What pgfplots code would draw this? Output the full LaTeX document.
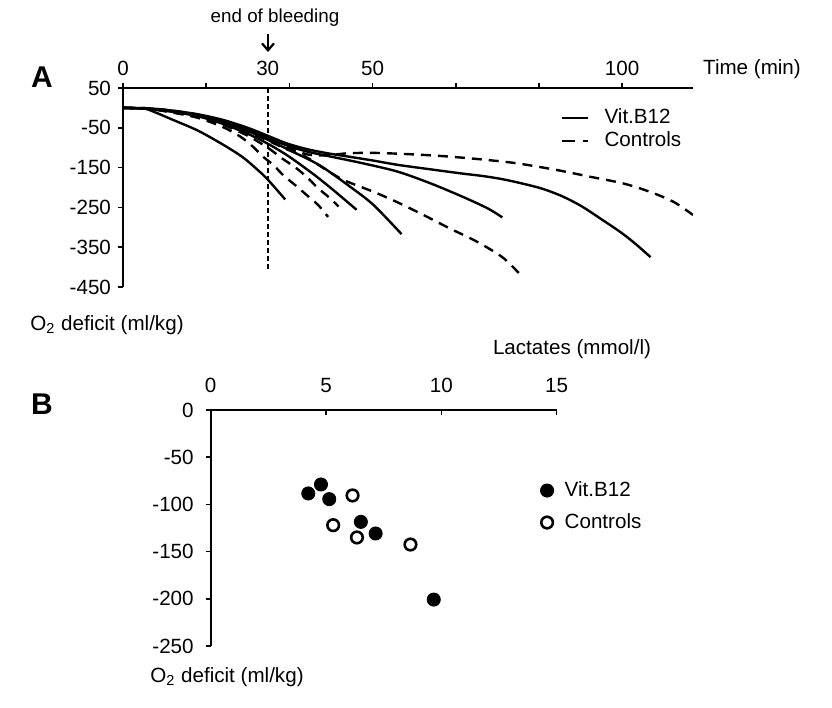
\documentclass[border=0pt]{standalone}
\usepackage{fontspec}
\setmainfont{Liberation Sans}
\usepackage{pgfplots}
\pgfplotsset{compat=1.18}
\usetikzlibrary{arrows.meta}
\newcommand\fsz{\fontsize{10.3}{12.4}\selectfont}
\begin{document}
\begin{tikzpicture}
\path[use as bounding box] (0pt,0pt) rectangle (416pt,-354pt);
% ---------------- Panel A ----------------
\begin{axis}[
  scale only axis, width=285pt, height=99.5pt,
  at={(61.5pt,-44pt)}, anchor=north west,
  xmin=0, xmax=114.2, ymin=-450, ymax=50,
  axis x line*=top, axis y line*=left,
  axis line style={line width=1pt},
  xtick={0,16.6667,33.3333,50,66.6667,83.3333,100},
  xticklabels={0,,,50,,,100},
  extra x ticks={29}, extra x tick labels={30},
  extra x tick style={xtick style={draw=none}},
  ytick={50,-50,-150,-250,-350,-450},
  yticklabels={50,-50,-150,-250,-350,-450},
  tick align=outside, major tick length=2.5pt,
  tick style={line width=0.8pt, black},
  tick label style={font=\fsz},
  legend cell align=left,
  legend image code/.code={\draw[#1] (0pt,0pt) -- (13pt,0pt);},
  legend style={draw=none, fill=none, inner sep=0pt, font=\fsz,
    at={(axis description cs:0.768,0.905)}, anchor=north west,
    nodes={inner sep=0.5pt, text height=7.5pt, text depth=2pt},
    column sep=7pt, row sep=1.2pt},
  every axis plot/.append style={line width=1.2pt, black},
]
\addlegendimage{solid, line width=1.2pt}
\addlegendentry{Vit.B12}
\addlegendimage{dash pattern=on 6.5pt off 4pt, line width=1.2pt}
\addlegendentry{Controls}
% end of bleeding line
\addplot[forget plot, line width=0.9pt, dash pattern=on 2.5pt off 1.5pt] coordinates {(29,50) (29,-412)};
% Vit.B12 (solid)
\addplot[forget plot, smooth, tension=0.5] coordinates {(0,0)(3,-1)(5,-4)(10,-30)(15,-57)(20,-92)(24,-124)(27,-156)(29,-180)(32.5,-230)};
\addplot[forget plot, smooth, tension=0.5] coordinates {(0,0)(5,-2)(10,-10)(15,-21)(20,-40)(25,-65)(29,-90)(33,-120)(38,-165)(42,-205)(46.8,-256)};
\addplot[forget plot, smooth, tension=0.5] coordinates {(0,0)(5,-2)(10,-9)(15,-19)(20,-36)(25,-58)(29,-80)(34,-110)(39.5,-145)(45.5,-198)(50.2,-244)(55.8,-317)};
\addplot[forget plot, smooth, tension=0.5] coordinates {(0,0)(5,-2)(10,-8)(15,-18)(20,-33)(25,-53)(29,-75)(33,-95)(37,-110)(41.5,-122)(48,-139)(55,-160)(61.5,-189)(68,-223)(73,-252)(76,-275)};
\addplot[forget plot, smooth, tension=0.5] coordinates {(0,0)(5,-1)(10,-7)(15,-16)(20,-30)(25,-50)(29,-70)(33,-90)(37,-104)(41,-114)(45,-122)(50,-132)(55,-143)(62,-155)(68,-165)(72,-171)(76,-179)(80,-190)(84,-203)(88,-222)(92,-248)(96,-281)(100,-315)(103,-345)(105.7,-375)};
% Controls (dashed)
\addplot[forget plot, smooth, tension=0.5, dash pattern=on 5pt off 3.5pt] coordinates {(0,0)(5,-2)(10,-12)(15,-25)(20,-48)(23.5,-72)(26,-97)(28.2,-124)(30.1,-143)(32.1,-169)(34.5,-194)(36.8,-219)(39.1,-244)(41.1,-274)};
\addplot[forget plot, smooth, tension=0.5, dash pattern=on 5pt off 3.5pt] coordinates {(0,0)(5,-2)(10,-11)(15,-22)(20,-42)(25,-70)(29,-100)(32,-128)(34.8,-152)(37.1,-177)(39.1,-202)(41.5,-227)(43.2,-248)};
\addplot[forget plot, smooth, tension=0.5, dash pattern=on 5pt off 3.5pt] coordinates {(0,0)(5,-2)(10,-10)(15,-20)(20,-38)(25,-60)(29,-82)(33,-105)(36.5,-122)(40,-150)(44,-180)(48,-200)(51,-215)(54.8,-236)(60.2,-269)(65.5,-303)(70.9,-336)(76.2,-377)(80.2,-427)};
\addplot[forget plot, smooth, tension=0.5, dash pattern=on 5pt off 3.5pt] coordinates {(0,0)(5,-1)(10,-7)(15,-17)(20,-32)(25,-52)(29,-72)(33,-98)(37,-117)(41,-119)(45,-114)(50,-113)(55,-115)(60,-118)(65,-122)(71.5,-129)(78.8,-139)(86.9,-156)(93.6,-173)(100.3,-190)(105.6,-211)(110.3,-236)(114.2,-269)};
\end{axis}
% ---------------- Panel B ----------------
\begin{axis}[
  scale only axis, width=173pt, height=118pt,
  at={(105.35pt,-205pt)}, anchor=north west,
  xmin=0, xmax=15, ymin=-250, ymax=0,
  axis x line*=top, axis y line*=left,
  axis line style={line width=1pt},
  xtick={0,5,10,15}, xticklabels={0,5,10,15},
  ytick={0,-50,-100,-150,-200,-250},
  yticklabels={0,-50,-100,-150,-200,-250},
  tick align=inside, major tick length=2.5pt,
  tick style={line width=0.8pt, black},
  ytick style={xshift=-2.5pt},
  tick label style={font=\fsz},
  xticklabel style={yshift=5pt},
  yticklabel style={xshift=-5pt},
  legend cell align=left,
  legend image code/.code={\draw[mark repeat=2,mark phase=2,#1] plot coordinates {(0pt,0pt)(3.5pt,0pt)(7pt,0pt)};},
  legend style={draw=none, fill=none, inner sep=0pt, font=\fsz,
    at={(axis description cs:0.952,0.705)}, anchor=north west,
    nodes={inner sep=0.5pt, text height=7.5pt, text depth=2pt},
    column sep=5pt, row sep=5.5pt},
]
\addplot[only marks, mark=*, mark size=3.3pt, mark options={fill=black, draw=black}]
  coordinates {(4.23,-88.4)(4.78,-78.9)(5.14,-94.4)(6.51,-118.5)(7.15,-130.8)(9.67,-200.8)};
\addlegendentry{Vit.B12}
\addplot[only marks, mark=o, mark size=2.9pt, mark options={line width=1.3pt, draw=black, fill=white}]
  coordinates {(6.15,-90.5)(5.31,-122)(6.34,-135)(8.66,-142.5)};
\addlegendentry{Controls}
\end{axis}
% ---------------- annotations ----------------
\begin{scope}[x=0.5pt, y=-0.5pt]
\node[font=\fontsize{15}{18}\selectfont\bfseries] at (42,77) {A};
\node[font=\fontsize{9.4}{11}\selectfont] at (275,18) {end of bleeding};
\draw[line width=1.1pt, -{Straight Barb[length=3.5pt, width=6pt, line width=1.1pt]}] (268,34) -- (268,52);
\node[font=\fsz] at (752,69) {Time (min)};
\node[font=\fsz, anchor=west, inner sep=0pt] at (30,325) {O\textsubscript{2} deficit (ml/kg)};
\node[font=\fontsize{15}{18}\selectfont\bfseries] at (42,404) {B};
\node[font=\fsz] at (572,349) {Lactates (mmol/l)};
\node[font=\fsz, anchor=west, inner sep=0pt] at (150,677) {O\textsubscript{2} deficit (ml/kg)};
\end{scope}
\end{tikzpicture}
\end{document}
